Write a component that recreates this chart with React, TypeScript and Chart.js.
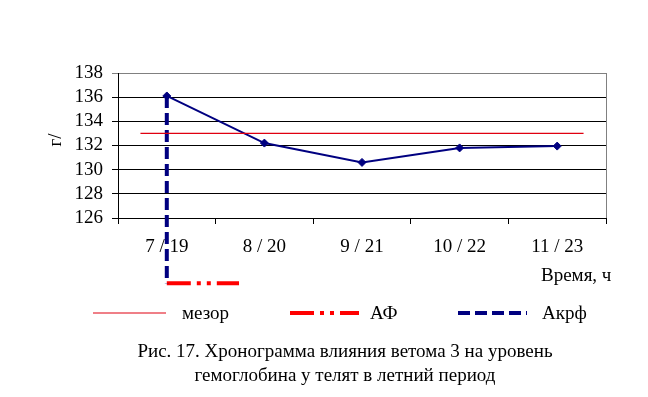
import React, { useEffect, useRef } from "react";
import { Chart, registerables } from "chart.js";

Chart.register(...registerables);

const categories = ["7 / 19", "8 / 20", "9 / 21", "10 / 22", "11 / 23"];
const hemoglobin = [136.1, 132.2, 130.6, 131.8, 131.95];
const yTicks = [126, 128, 130, 132, 134, 136, 138];
const mesorValue = 133;
const mesorSpan = [-0.27, 4.27];
const acrophaseIndex = 0;
const acrophaseTop = 136.1;
const acrophaseLevel = 120.6;
const afSpan = [0, 0.74];
const legendLabels = ["мезор", "АФ", "Акрф"];
const captionLines = [
  "Рис. 17. Хронограмма влияния ветома 3 на уровень",
  "гемоглобина у телят в летний период",
];
const xAxisTitle = "Время, ч";
const yAxisTitle = "г/";

const FONT = "'Liberation Serif', 'Times New Roman', serif";
const FS = 19;
const NAVY = "#000080";
const RED = "#ff0000";
const MESOR_RED = "#e00010";
const AF_DASH = [24, 6, 4, 6, 4, 6];
const AKRF_DASH = [12, 5];

const overlayPlugin = {
  id: "overlay",
  afterDraw(chart: any) {
    const ctx = chart.ctx as CanvasRenderingContext2D;
    const area = chart.chartArea;
    ctx.save();
    // right plot border
    ctx.strokeStyle = "#808080";
    ctx.lineWidth = 1;
    ctx.beginPath();
    ctx.moveTo(Math.round(area.right) + 0.5, area.top);
    ctx.lineTo(Math.round(area.right) + 0.5, area.bottom);
    ctx.stroke();

    ctx.fillStyle = "#000";
    ctx.font = `${FS}px ${FONT}`;
    ctx.textBaseline = "middle";

    // x axis title
    ctx.textAlign = "left";
    ctx.fillText(xAxisTitle, 541, 276);

    // y axis title
    ctx.save();
    ctx.translate(56, 140);
    ctx.rotate(-Math.PI / 2);
    ctx.textAlign = "center";
    ctx.fillText(yAxisTitle, 0, 0);
    ctx.restore();

    // legend
    const ly = 313;
    const drawSample = (x1: number, x2: number, color: string, w: number, dash: number[]) => {
      ctx.save();
      ctx.strokeStyle = color;
      ctx.lineWidth = w;
      ctx.setLineDash(dash);
      ctx.beginPath();
      ctx.moveTo(x1, ly);
      ctx.lineTo(x2, ly);
      ctx.stroke();
      ctx.restore();
    };
    drawSample(93, 166, MESOR_RED, 1.2, []);
    drawSample(290, 359, RED, 4, AF_DASH);
    drawSample(458, 527, NAVY, 4, AKRF_DASH);
    ctx.textAlign = "left";
    ctx.fillText(legendLabels[0], 182, ly + 1);
    ctx.fillText(legendLabels[1], 370, ly + 1);
    ctx.fillText(legendLabels[2], 542, ly + 1);

    // caption
    ctx.textAlign = "center";
    ctx.fillText(captionLines[0], 345, 352);
    ctx.fillText(captionLines[1], 345, 376);
    ctx.restore();
  },
};

export default function App() {
  const ref = useRef<HTMLCanvasElement | null>(null);

  useEffect(() => {
    if (!ref.current) return;
    Chart.defaults.font.family = FONT;
    const chart = new Chart(ref.current, {
      type: "line",
      data: {
        labels: categories,
        datasets: [
          {
            label: "mesor",
            data: mesorSpan.map((x) => ({ x, y: mesorValue })),
            xAxisID: "x2",
            borderColor: MESOR_RED,
            borderWidth: 1.2,
            pointRadius: 0,
            fill: false,
          } as any,
          {
            label: "Акрф",
            data: [
              { x: acrophaseIndex, y: acrophaseTop },
              { x: acrophaseIndex, y: acrophaseLevel },
            ],
            xAxisID: "x2",
            borderColor: NAVY,
            borderWidth: 4,
            borderDash: AKRF_DASH,
            pointRadius: 0,
            clip: false,
            fill: false,
          } as any,
          {
            label: "АФ",
            data: afSpan.map((x) => ({ x, y: acrophaseLevel })),
            xAxisID: "x2",
            borderColor: RED,
            borderWidth: 4,
            borderDash: AF_DASH,
            pointRadius: 0,
            clip: false,
            fill: false,
          } as any,
          {
            label: "hemoglobin",
            data: hemoglobin,
            xAxisID: "x",
            borderColor: NAVY,
            backgroundColor: NAVY,
            borderWidth: 2,
            pointStyle: "rectRot",
            pointRadius: 4,
            pointBorderWidth: 1,
            tension: 0,
            fill: false,
          },
        ],
      },
      options: {
        responsive: false,
        animation: false,
        layout: { padding: { top: 73, right: 42, bottom: 0, left: 0 } },
        plugins: {
          legend: { display: false },
          title: { display: false },
          tooltip: { enabled: false },
        },
        scales: {
          x: {
            type: "category",
            offset: true,
            grid: {
              offset: true,
              drawOnChartArea: false,
              drawTicks: true,
              tickLength: 6,
              color: "#000",
            },
            border: { display: true, color: "#000" },
            ticks: { color: "#000", font: { size: FS }, padding: 12, maxRotation: 0, autoSkip: false },
            afterFit(scale: any) {
              scale.height = 397 - 218;
            },
          },
          x2: {
            type: "linear",
            display: false,
            min: -0.5,
            max: 4.5,
          },
          y: {
            type: "linear",
            min: 126,
            max: 138,
            afterBuildTicks(scale: any) {
              scale.ticks = yTicks.map((v) => ({ value: v }));
            },
            grid: {
              color: (c: any) => (c.tick && c.tick.value === 138 ? "#808080" : "#000"),
              tickLength: 6,
            },
            border: { display: true, color: "#000" },
            ticks: { color: "#000", font: { size: FS }, padding: 9, autoSkip: false },
            afterFit(scale: any) {
              scale.width = 118;
            },
          },
        },
      },
      plugins: [overlayPlugin],
    } as any);
    return () => chart.destroy();
  }, []);

  return (
    <div style={{ position: "absolute", left: 0, top: 0, width: 648, height: 397, background: "#fff" }}>
      <canvas ref={ref} width={648} height={397} style={{ display: "block" }} />
    </div>
  );
}
